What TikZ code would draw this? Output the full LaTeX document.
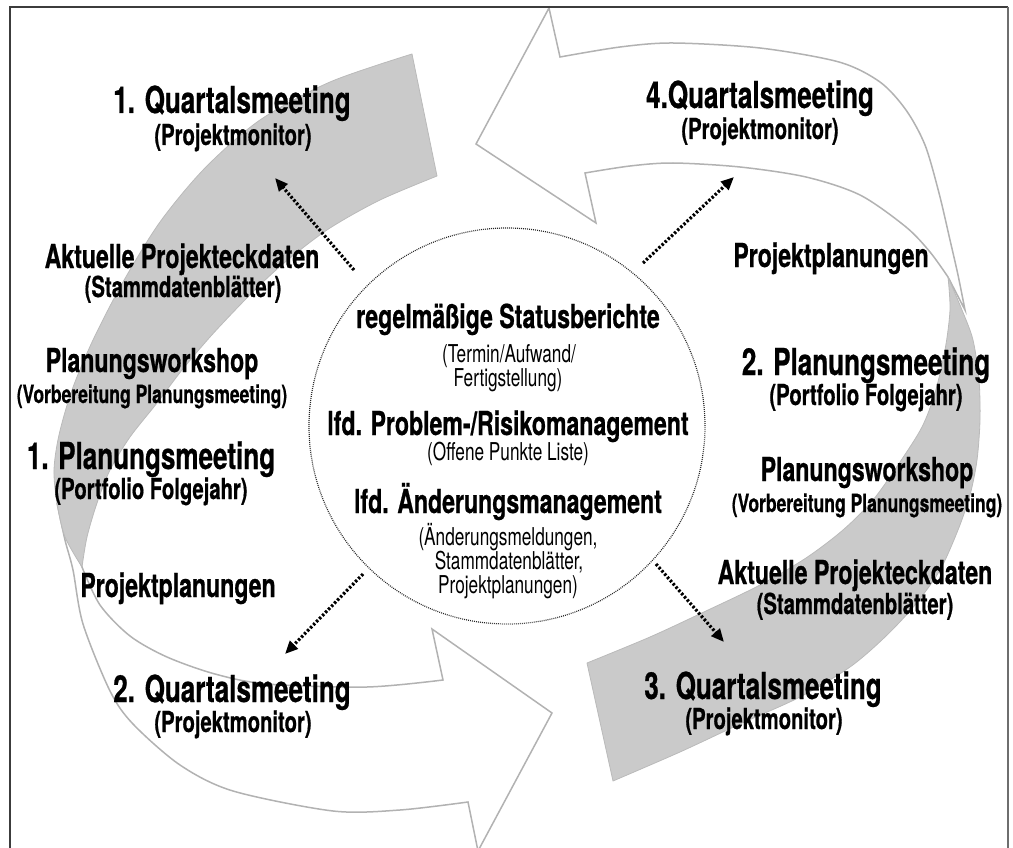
\documentclass[tikz,border=0pt]{standalone}
\usepackage{fontspec}
\setmainfont{TeX Gyre Heros}[FakeStretch=0.70, BoldFeatures={FakeBold=0.6}]
\usetikzlibrary{arrows.meta}
\definecolor{bandgray}{RGB}{202,202,202}
\definecolor{bandedge}{RGB}{186,186,186}
\definecolor{ribbonedge}{RGB}{178,178,178}
\definecolor{framedark}{RGB}{60,60,60}
\definecolor{frameside}{RGB}{110,110,110}

\begin{document}
\begin{tikzpicture}[x=1pt,y=-1pt,
  backband/.style={fill=bandgray, draw=bandedge, line width=0.8pt, line join=round},
  frontband/.style={fill=white, draw=ribbonedge, line width=1.5pt, line join=miter},
  hubring/.style={circle, draw=black!85, line width=1.2pt, dash pattern=on 0.9pt off 1.1pt,
                  minimum size=396pt, inner sep=0pt, outer sep=0pt},
  feed/.style={line width=3.2pt, dash pattern=on 2.4pt off 1.9pt,
               -{Triangle[length=13pt,width=11pt]}},
  head/.style={font=\fontsize{37.2}{40}\selectfont\bfseries, anchor=base, inner sep=0pt},
  mid/.style={font=\fontsize{33}{36}\selectfont\bfseries, anchor=base, inner sep=0pt},
  subl/.style={font=\fontsize{28.9}{32}\selectfont\bfseries, anchor=base, inner sep=0pt},
  subs/.style={font=\fontsize{25}{28}\selectfont\bfseries, anchor=base, inner sep=0pt},
  hubhead/.style={font=\fontsize{33}{36}\selectfont\bfseries, anchor=base, inner sep=0pt},
  hubtext/.style={font=\fontsize{24.6}{28}\selectfont, anchor=base, inner sep=0pt}
]
\useasboundingbox (0,0) rectangle (1013,848);

% ---- left ribbon: front part with arrow head (bottom) ----
\path[frontband]
  plot[smooth] coordinates {(57,503) (65,540) (73,570) (83,624) (110,691) (133,724)
                            (180,765) (233,791) (333,811) (400,810) (468,802)}
  -- (478,851) -- (552,713) -- (432,629) -- (443,680)
  -- plot[smooth] coordinates {(443,680) (367,687) (267,684) (215,674) (167,657)
                               (130,636) (100,605) (82,567)}
  -- cycle;

% ---- left ribbon: back part (top-left) ----
\path[backband]
  plot[smooth] coordinates {(412,54) (330,82) (260,120) (205,168) (160,222) (123,282)
                            (93,340) (72,390) (59,435) (54,470) (57,503) (65,537) (82,567)}
  -- plot[smooth] coordinates {(82,567) (87,537) (97,503) (110,470) (130,437) (157,403)
                               (182,370) (210,337) (240,305) (263,282) (290,258)
                               (330,228) (380,200) (437,176)}
  -- cycle;

% ---- right ribbon: front part with arrow head (top) ----
\path[frontband]
  plot[smooth] coordinates {(965,310) (958,275) (950,240) (939,193) (925,145) (906,110)
                            (880,82) (839,62) (760,48) (673,43) (620,47) (560,57)}
  -- (549,8) -- (476,144) -- (596,223) -- (585,173)
  -- plot[smooth] coordinates {(585,173) (630,166) (673,163) (740,167) (806,177)
                               (860,195) (906,227) (930,252) (948,277)}
  -- cycle;

% ---- right ribbon: back part (bottom-right) ----
\path[backband]
  plot[smooth] coordinates {(948,277) (962,310) (973,340) (979,380) (980,420) (977,460)
                            (970,495) (958,530) (940,570) (915,605) (885,637) (850,667)
                            (800,697) (740,724) (680,752) (613,781)}
  -- plot[smooth] coordinates {(587,663) (650,637) (706,611) (760,585) (806,558)
                               (843,530) (873,500) (900,462) (922,427) (935,393)
                               (945,350) (950,310) (948,277)}
  -- cycle;

% ---- frame ----
\draw[framedark, line width=1.3pt] (10,860) -- (10,7) -- (1008,7);
\draw[frameside, line width=2.6pt] (1008,7) -- (1008,860);

% ---- central hub ----
\node[hubring] (hub) at (507,426) {};

\node[hubhead] (st1) at (508,328) {regelmäßige Statusberichte};
\node[hubtext] (st2) at (509,362) {(Termin/Aufwand/};
\node[hubtext] (st3) at (508,386) {Fertigstellung)};
\node[hubhead] (rk1) at (508,435) {lfd. Problem-/Risikomanagement};
\node[hubtext] (rk2) at (508,460) {(Offene Punkte Liste)};
\node[hubhead] (am1) at (508,513) {lfd. Änderungsmanagement};
\node[hubtext] (am2) at (508,545) {(Änderungsmeldungen,};
\node[hubtext] (am3) at (509,569) {Stammdatenblätter,};
\node[hubtext] (am4) at (508,593) {Projektplanungen)};

% ---- dotted feeds from the hub to the meetings ----
\coordinate (f1s) at (354,270); \coordinate (f1e) at (275,178);
\coordinate (f2s) at (643,263); \coordinate (f2e) at (734,177);
\coordinate (f3s) at (363,574); \coordinate (f3e) at (285,654);
\coordinate (f4s) at (656,564); \coordinate (f4e) at (724,642);
\draw[feed] (f1s) -- (f1e);
\draw[feed] (f2s) -- (f2e);
\draw[feed] (f3s) -- (f3e);
\draw[feed] (f4s) -- (f4e);

% ---- left side labels ----
\node[head] (q1t) at (232,113) {1. Quartalsmeeting};
\node[subl] (q1s) at (233,145) {(Projektmonitor)};
\node[mid]  (ek1t) at (182,268) {Aktuelle Projekteckdaten};
\node[subl] (ek1s) at (183,297) {(Stammdatenblätter)};
\node[mid]  (ws1t) at (152,372) {Planungsworkshop};
\node[subs] (ws1s) at (152,403) {(Vorbereitung Planungsmeeting)};
\node[head] (pm1t) at (151,469) {1. Planungsmeeting};
\node[subl] (pm1s) at (151,499) {(Portfolio Folgejahr)};
\node[mid]  (pp1) at (178,597) {Projektplanungen};
\node[head] (q2t) at (232,702) {2. Quartalsmeeting};
\node[subl] (q2s) at (233,732) {(Projektmonitor)};

% ---- right side labels ----
\node[head] (q4t) at (760,108) {4.Quartalsmeeting};
\node[subl] (q4s) at (760,139) {(Projektmonitor)};
\node[mid]  (pp2) at (831,267) {Projektplanungen};
\node[head] (pm2t) at (866,375) {2. Planungsmeeting};
\node[subl] (pm2s) at (866,405) {(Portfolio Folgejahr)};
\node[mid]  (ws2t) at (867,481) {Planungsworkshop};
\node[subs] (ws2s) at (867,512) {(Vorbereitung Planungsmeeting)};
\node[mid]  (ek2t) at (855,584) {Aktuelle Projekteckdaten};
\node[subl] (ek2s) at (855,614) {(Stammdatenblätter)};
\node[head] (q3t) at (763,699) {3. Quartalsmeeting};
\node[subl] (q3s) at (764,729) {(Projektmonitor)};
\end{tikzpicture}
\end{document}
